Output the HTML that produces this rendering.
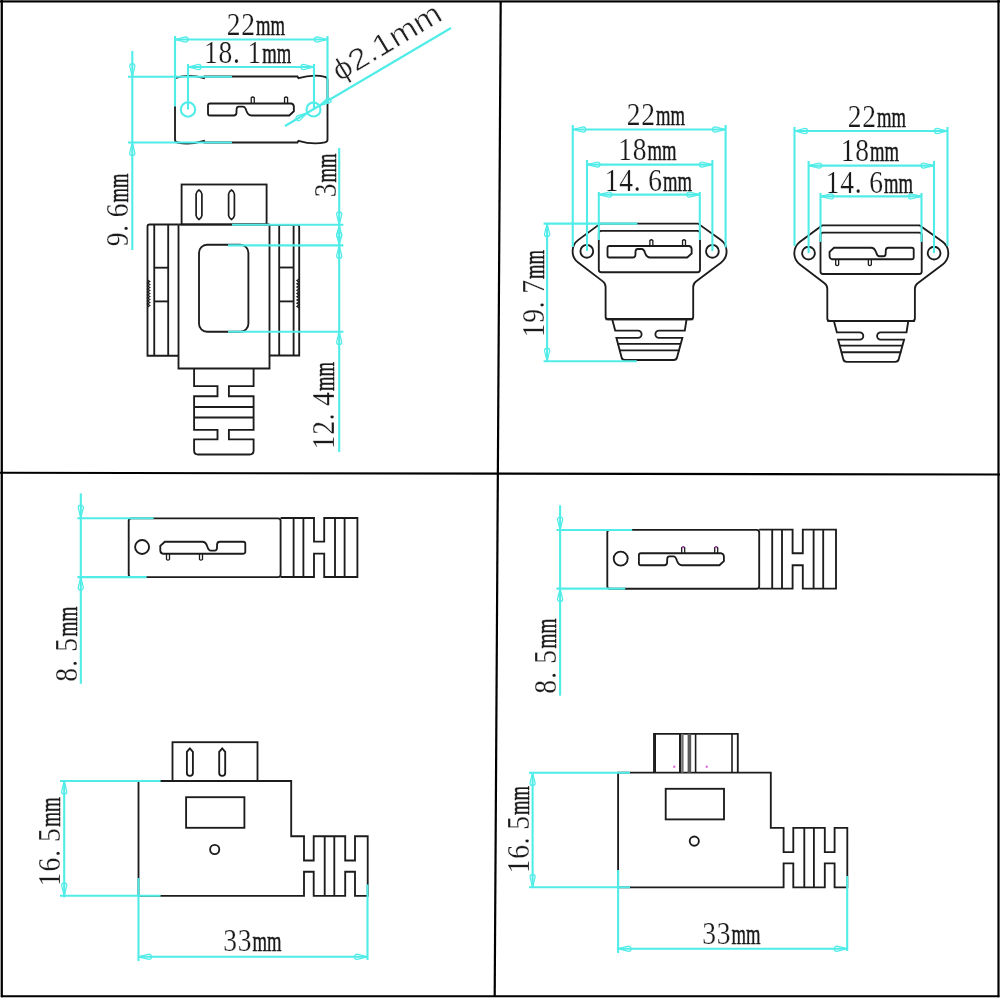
<!DOCTYPE html>
<html><head><meta charset="utf-8"><style>html,body{margin:0;padding:0;background:#fff;}svg{display:block;will-change:transform;} </style></head><body>
<svg width="1000" height="1000" viewBox="0 0 1000 1000">
<rect x="0" y="0" width="1000" height="1000" fill="#ffffff"/>
<g>
<path d="M175,78 Q189.5,73.8 204,78.2 L204.5,76.5 L297.5,76.5 L298.5,78.2 Q313,73.8 325,76.8 Q327.5,77.5 327.5,80 L327.5,139.5 Q327.5,142 325,142.3 Q313,145 298.5,140.8 L297.5,142.5 L204.5,142.5 L204,140.8 Q189.5,145.2 177.5,142.5 Q175,142 175,139.5 Z" stroke="#1c1c1c" stroke-width="1.85" fill="none" />
<circle cx="188" cy="109.5" r="7.2" stroke="#50ece8" stroke-width="2.1" fill="none"/>
<circle cx="313.5" cy="109.5" r="7" stroke="#50ece8" stroke-width="2.1" fill="none"/>
<g transform="translate(208,103.5) scale(1.01,1.04)">
<path d="M2,0 L82.5,0 Q84.8,0.5 85,3 L85,7.5 L80.5,11.5 L43,11.5 Q39.5,11.5 38,7 Q36.8,3 34.5,3 L30.5,3 Q28.5,3 28.3,5.5 L28.2,9 Q28,11.5 25.5,11.5 L2,11.5 Q0,11.5 0,9.5 L0,2 Q0,0 2,0 Z" stroke="#1c1c1c" stroke-width="1.85" fill="none" vector-effect="non-scaling-stroke"/>
<path d="M42.8,0 L42.8,-5.5 Q44.3,-7 45.8,-5.5 L45.8,0" stroke="#1c1c1c" stroke-width="1.3" fill="none" vector-effect="non-scaling-stroke"/>
<path d="M75.8,0 L75.8,-5.5 Q77.3,-7 78.8,-5.5 L78.8,0" stroke="#1c1c1c" stroke-width="1.3" fill="none" vector-effect="non-scaling-stroke"/>
</g>
<line x1="175" y1="36" x2="175" y2="106.5" stroke="#50ece8" stroke-width="2.1"/>
<line x1="327.5" y1="36" x2="327.5" y2="103" stroke="#50ece8" stroke-width="2.1"/>
<line x1="175" y1="39.5" x2="327.5" y2="39.5" stroke="#50ece8" stroke-width="2.1"/>
<path d="M175,39.5 L185.4,42.1 A2.6,2.6 0 0 0 185.4,36.9 Z" stroke="#50ece8" stroke-width="1.2" fill="none" />
<path d="M327.5,39.5 L317.1,36.9 A2.6,2.6 0 0 0 317.1,42.1 Z" stroke="#50ece8" stroke-width="1.2" fill="none" />
<line x1="188" y1="64" x2="188" y2="109.5" stroke="#50ece8" stroke-width="2.1"/>
<line x1="314" y1="64" x2="314" y2="109.5" stroke="#50ece8" stroke-width="2.1"/>
<line x1="188" y1="67" x2="314" y2="67" stroke="#50ece8" stroke-width="2.1"/>
<path d="M188,67 L198.4,69.6 A2.6,2.6 0 0 0 198.4,64.4 Z" stroke="#50ece8" stroke-width="1.2" fill="none" />
<path d="M314,67 L303.6,64.4 A2.6,2.6 0 0 0 303.6,69.6 Z" stroke="#50ece8" stroke-width="1.2" fill="none" />
<g transform="translate(227,34.5)"><g transform="scale(0.86,1)"><text x="-0.35 16.51" y="0" font-family="Liberation Serif" font-size="32" fill="#1a1a1a" stroke="#fff" stroke-width="0.2">22</text></g><text x="29" y="0" font-family="Liberation Serif" font-size="29.5" fill="#1a1a1a" stroke="#1a1a1a" stroke-width="0.5" textLength="29" lengthAdjust="spacingAndGlyphs">mm</text></g>
<g transform="translate(204.3,62.5)"><g transform="scale(0.86,1)"><text x="-0.35 16.51 33.37 50.23" y="0" font-family="Liberation Serif" font-size="32" fill="#1a1a1a" stroke="#fff" stroke-width="0.2">18.1</text></g><text x="58" y="0" font-family="Liberation Serif" font-size="29.5" fill="#1a1a1a" stroke="#1a1a1a" stroke-width="0.5" textLength="29" lengthAdjust="spacingAndGlyphs">mm</text></g>
<line x1="285" y1="126" x2="451" y2="28" stroke="#50ece8" stroke-width="2.1"/>
<path d="M307.47,112.86 L297.2,115.91 A2.6,2.6 0 0 0 299.84,120.38 Z" stroke="#50ece8" stroke-width="1.2" fill="none" />
<path d="M319.53,105.74 L329.8,102.69 A2.6,2.6 0 0 0 327.16,98.22 Z" stroke="#50ece8" stroke-width="1.2" fill="none" />
<g transform="translate(339.5,82) rotate(-31)"><text x="0" y="0" font-family="Liberation Sans" font-size="30" fill="#222" stroke="#fff" stroke-width="0.6" textLength="122" lengthAdjust="spacingAndGlyphs">&#981;2.1mm</text></g>
<line x1="132.3" y1="51" x2="132.3" y2="250" stroke="#50ece8" stroke-width="2.1"/>
<line x1="128" y1="76.7" x2="232" y2="76.7" stroke="#50ece8" stroke-width="2.1"/>
<line x1="128" y1="142.5" x2="232" y2="142.5" stroke="#50ece8" stroke-width="2.1"/>
<path d="M132.3,76.7 L134.9,66.3 A2.6,2.6 0 0 0 129.7,66.3 Z" stroke="#50ece8" stroke-width="1.2" fill="none" />
<path d="M132.3,142.5 L129.7,152.9 A2.6,2.6 0 0 0 134.9,152.9 Z" stroke="#50ece8" stroke-width="1.2" fill="none" />
<g transform="translate(128.4,246) rotate(-90)"><g transform="scale(0.86,1)"><text x="-0.35 16.51 33.37" y="0" font-family="Liberation Serif" font-size="32" fill="#1a1a1a" stroke="#fff" stroke-width="0.2">9.6</text></g><text x="43.5" y="0" font-family="Liberation Serif" font-size="29.5" fill="#1a1a1a" stroke="#1a1a1a" stroke-width="0.5" textLength="29" lengthAdjust="spacingAndGlyphs">mm</text></g>
<rect x="181.6" y="184.5" width="85" height="40" rx="0" stroke="#1c1c1c" stroke-width="1.85" fill="none"/>
<path d="M196.1,194 Q196.4,191.6 199,190 Q201.6,191.6 201.9,194 L201.9,215.5 Q201.6,217.9 199,219.5 Q196.4,217.9 196.1,215.5 Z" stroke="#1c1c1c" stroke-width="1.7" fill="none" />
<path d="M228.6,194 Q228.9,191.6 231.5,190 Q234.1,191.6 234.4,194 L234.4,215.5 Q234.1,217.9 231.5,219.5 Q228.9,217.9 228.6,215.5 Z" stroke="#1c1c1c" stroke-width="1.7" fill="none" />
<path d="M178.5,224.5 L178.5,368.5 L269.5,368.5 L269.5,224.5" stroke="#1c1c1c" stroke-width="1.85" fill="none" />
<line x1="178.5" y1="224.5" x2="269.5" y2="224.5" stroke="#1c1c1c" stroke-width="1.85"/>
<path d="M178.5,224.5 L149.5,224.5 Q147.5,224.5 147.5,226.5 L147.5,355.7 L178.5,355.7" stroke="#1c1c1c" stroke-width="1.85" fill="none" />
<line x1="154.25" y1="224.5" x2="154.25" y2="355.7" stroke="#1c1c1c" stroke-width="1.85"/>
<line x1="168.2" y1="224.5" x2="168.2" y2="355.7" stroke="#1c1c1c" stroke-width="1.85"/>
<line x1="154.25" y1="267.7" x2="168.2" y2="267.7" stroke="#1c1c1c" stroke-width="1.85"/>
<line x1="154.25" y1="301.4" x2="168.2" y2="301.4" stroke="#1c1c1c" stroke-width="1.85"/>
<path d="M269.5,224.8 L297.2,224.8 Q299.2,224.8 299.2,226.8 L299.2,355.5 L269.5,355.5" stroke="#1c1c1c" stroke-width="1.85" fill="none" />
<line x1="279.2" y1="224.8" x2="279.2" y2="355.5" stroke="#1c1c1c" stroke-width="1.85"/>
<line x1="293.6" y1="224.8" x2="293.6" y2="355.5" stroke="#1c1c1c" stroke-width="1.85"/>
<line x1="279.2" y1="267.5" x2="293.6" y2="267.5" stroke="#1c1c1c" stroke-width="1.85"/>
<line x1="279.2" y1="301.4" x2="293.6" y2="301.4" stroke="#1c1c1c" stroke-width="1.85"/>
<path d="M147.5,280 L149.7,281.5 L147.5,283 L149.7,284.5 L147.5,286 L149.7,287.5 L147.5,289 L149.7,290.5 L147.5,292 L149.7,293.5 L147.5,295 L149.7,296.5 L147.5,298 L149.7,299.5 L147.5,301 L149.7,302.5 L147.5,304 L149.7,305.5 L147.5,307" stroke="#1c1c1c" stroke-width="1.3" fill="none" />
<path d="M299.2,279 L297,280.61 L299.2,282.22 L297,283.83 L299.2,285.44 L297,287.06 L299.2,288.67 L297,290.28 L299.2,291.89 L297,293.5 L299.2,295.11 L297,296.72 L299.2,298.33 L297,299.94 L299.2,301.56 L297,303.17 L299.2,304.78 L297,306.39 L299.2,308" stroke="#1c1c1c" stroke-width="1.3" fill="none" />
<rect x="199" y="244.7" width="49.4" height="87" rx="8" stroke="#1c1c1c" stroke-width="1.85" fill="none"/>
<path d="M194.1,368.4 L194.1,386.1 L217.5,386.1 L217.5,396.2 L194.1,396.2 L194.1,429.8 L217.5,429.8 L217.5,439.3 L194.1,439.3 L194.1,450.5 Q194.1,454.5 198,454.5 L249.6,454.5 Q253.6,454.5 253.6,450.5 L253.6,439.3 L228.9,439.3 L228.9,429.8 L253.6,429.8 L253.6,396.2 L228.9,396.2 L228.9,386.1 L253.6,386.1 L253.6,368.4" stroke="#1c1c1c" stroke-width="1.85" fill="none" />
<line x1="194.1" y1="407" x2="253.6" y2="407" stroke="#1c1c1c" stroke-width="1.85"/>
<line x1="194.1" y1="417.5" x2="253.6" y2="417.5" stroke="#1c1c1c" stroke-width="1.85"/>
<line x1="339.2" y1="148" x2="339.2" y2="452" stroke="#50ece8" stroke-width="2.1"/>
<line x1="232" y1="224.8" x2="343.4" y2="224.8" stroke="#50ece8" stroke-width="2.1"/>
<line x1="228" y1="245.4" x2="343.4" y2="245.4" stroke="#50ece8" stroke-width="2.1"/>
<line x1="228" y1="331.7" x2="343.4" y2="331.7" stroke="#50ece8" stroke-width="2.1"/>
<path d="M339.2,224.8 L341.8,214.4 A2.6,2.6 0 0 0 336.6,214.4 Z" stroke="#50ece8" stroke-width="1.2" fill="none" />
<path d="M339.2,224.8 L336.6,235.2 A2.6,2.6 0 0 0 341.8,235.2 Z" stroke="#50ece8" stroke-width="1.2" fill="none" />
<path d="M339.2,245.4 L341.8,235 A2.6,2.6 0 0 0 336.6,235 Z" stroke="#50ece8" stroke-width="1.2" fill="none" />
<path d="M339.2,245.4 L336.6,255.8 A2.6,2.6 0 0 0 341.8,255.8 Z" stroke="#50ece8" stroke-width="1.2" fill="none" />
<path d="M339.2,331.7 L336.6,342.1 A2.6,2.6 0 0 0 341.8,342.1 Z" stroke="#50ece8" stroke-width="1.2" fill="none" />
<g transform="translate(335.6,197) rotate(-90)"><g transform="scale(0.86,1)"><text x="-0.35" y="0" font-family="Liberation Serif" font-size="32" fill="#1a1a1a" stroke="#fff" stroke-width="0.2">3</text></g><text x="14.5" y="0" font-family="Liberation Serif" font-size="29.5" fill="#1a1a1a" stroke="#1a1a1a" stroke-width="0.5" textLength="29" lengthAdjust="spacingAndGlyphs">mm</text></g>
<g transform="translate(334.4,449) rotate(-90)"><g transform="scale(0.86,1)"><text x="-0.35 16.51 33.37 50.23" y="0" font-family="Liberation Serif" font-size="32" fill="#1a1a1a" stroke="#fff" stroke-width="0.2">12.4</text></g><text x="58" y="0" font-family="Liberation Serif" font-size="29.5" fill="#1a1a1a" stroke="#1a1a1a" stroke-width="0.5" textLength="29" lengthAdjust="spacingAndGlyphs">mm</text></g>
<path d="M600.4,223.6 L698,223.6 L720.64,239.74 A14.2,14.2 0 0 1 720.93,262.65 L696,281.4 Q693.2,283.5 693.2,287 L693.2,316.8 Q693.2,319.2 690.8,319.2 L608,319.2 Q605.6,319.2 605.6,316.8 L605.6,287 Q605.6,283.5 602.82,281.38 L578.19,262.59 A14.2,14.2 0 0 1 578.36,239.88 Z" stroke="#1c1c1c" stroke-width="1.85" fill="none" />
<circle cx="586.8" cy="251.3" r="6.4" stroke="#1c1c1c" stroke-width="1.85" fill="none"/>
<circle cx="712.4" cy="251.3" r="6.4" stroke="#1c1c1c" stroke-width="1.85" fill="none"/>
<rect x="598.8" y="230.8" width="101.2" height="41.4" rx="2.5" stroke="#1c1c1c" stroke-width="1.85" fill="none"/>
<g transform="translate(607.5,246) scale(0.99,1)">
<path d="M2,0 L82.5,0 Q84.8,0.5 85,3 L85,7.5 L80.5,11.5 L43,11.5 Q39.5,11.5 38,7 Q36.8,3 34.5,3 L30.5,3 Q28.5,3 28.3,5.5 L28.2,9 Q28,11.5 25.5,11.5 L2,11.5 Q0,11.5 0,9.5 L0,2 Q0,0 2,0 Z" stroke="#1c1c1c" stroke-width="1.85" fill="none" vector-effect="non-scaling-stroke"/>
<path d="M42.8,0 L42.8,-5.5 Q44.3,-7 45.8,-5.5 L45.8,0" stroke="#1c1c1c" stroke-width="1.3" fill="none" vector-effect="non-scaling-stroke"/>
<path d="M75.8,0 L75.8,-5.5 Q77.3,-7 78.8,-5.5 L78.8,0" stroke="#1c1c1c" stroke-width="1.3" fill="none" vector-effect="non-scaling-stroke"/>
</g>
<path d="M612.2,319.2 L615.2,330.6 L638,330.6 A3.6,3.6 0 0 1 638,337.8 L616.4,337.8 L621.6,357.5 Q622.2,360 625,360 L673.6,360 Q676.4,360 677,357.5 L682.4,337.8 L659,337.8 A3.6,3.6 0 0 1 659,330.6 L684.8,330.6 L686.6,319.2" stroke="#1c1c1c" stroke-width="1.85" fill="none" />
<line x1="617.5" y1="343.8" x2="681" y2="343.8" stroke="#1c1c1c" stroke-width="1.85"/>
<line x1="619.2" y1="350.4" x2="679.6" y2="350.4" stroke="#1c1c1c" stroke-width="1.85"/>
<line x1="605.6" y1="319.2" x2="693.2" y2="319.2" stroke="#1c1c1c" stroke-width="2.2"/>
<path d="M822.1,225.4 L919.7,225.4 L942.34,241.54 A14.2,14.2 0 0 1 942.63,264.45 L917.7,283.2 Q914.9,285.3 914.9,288.8 L914.9,318.6 Q914.9,321 912.5,321 L829.7,321 Q827.3,321 827.3,318.6 L827.3,288.8 Q827.3,285.3 824.52,283.18 L799.89,264.39 A14.2,14.2 0 0 1 800.06,241.68 Z" stroke="#1c1c1c" stroke-width="1.85" fill="none" />
<circle cx="808.5" cy="253.1" r="6.4" stroke="#1c1c1c" stroke-width="1.85" fill="none"/>
<circle cx="934.1" cy="253.1" r="6.4" stroke="#1c1c1c" stroke-width="1.85" fill="none"/>
<rect x="820.5" y="232.6" width="101.2" height="41.4" rx="2.5" stroke="#1c1c1c" stroke-width="1.85" fill="none"/>
<g transform="translate(913.7,259.3) scale(-0.99,-1)">
<path d="M2,0 L82.5,0 Q84.8,0.5 85,3 L85,7.5 L80.5,11.5 L43,11.5 Q39.5,11.5 38,7 Q36.8,3 34.5,3 L30.5,3 Q28.5,3 28.3,5.5 L28.2,9 Q28,11.5 25.5,11.5 L2,11.5 Q0,11.5 0,9.5 L0,2 Q0,0 2,0 Z" stroke="#1c1c1c" stroke-width="1.85" fill="none" vector-effect="non-scaling-stroke"/>
<path d="M42.8,0 L42.8,-5.5 Q44.3,-7 45.8,-5.5 L45.8,0" stroke="#1c1c1c" stroke-width="1.3" fill="none" vector-effect="non-scaling-stroke"/>
<path d="M75.8,0 L75.8,-5.5 Q77.3,-7 78.8,-5.5 L78.8,0" stroke="#1c1c1c" stroke-width="1.3" fill="none" vector-effect="non-scaling-stroke"/>
</g>
<path d="M833.9,321 L836.9,332.4 L859.7,332.4 A3.6,3.6 0 0 1 859.7,339.6 L838.1,339.6 L843.3,359.3 Q843.9,361.8 846.7,361.8 L895.3,361.8 Q898.1,361.8 898.7,359.3 L904.1,339.6 L880.7,339.6 A3.6,3.6 0 0 1 880.7,332.4 L906.5,332.4 L908.3,321" stroke="#1c1c1c" stroke-width="1.85" fill="none" />
<line x1="839.2" y1="345.6" x2="902.7" y2="345.6" stroke="#1c1c1c" stroke-width="1.85"/>
<line x1="840.9" y1="352.2" x2="901.3" y2="352.2" stroke="#1c1c1c" stroke-width="1.85"/>
<line x1="827.3" y1="321" x2="914.9" y2="321" stroke="#1c1c1c" stroke-width="2.2"/>
<line x1="572.75" y1="125" x2="572.75" y2="247" stroke="#50ece8" stroke-width="2.1"/>
<line x1="725.6" y1="125" x2="725.6" y2="247.5" stroke="#50ece8" stroke-width="2.1"/>
<line x1="572.75" y1="129.5" x2="725.6" y2="129.5" stroke="#50ece8" stroke-width="2.1"/>
<path d="M572.75,129.5 L583.15,132.1 A2.6,2.6 0 0 0 583.15,126.9 Z" stroke="#50ece8" stroke-width="1.2" fill="none" />
<path d="M725.6,129.5 L715.2,126.9 A2.6,2.6 0 0 0 715.2,132.1 Z" stroke="#50ece8" stroke-width="1.2" fill="none" />
<line x1="587" y1="160" x2="587" y2="251" stroke="#50ece8" stroke-width="2.1"/>
<line x1="712.4" y1="160" x2="712.4" y2="251" stroke="#50ece8" stroke-width="2.1"/>
<line x1="587" y1="164.6" x2="712.4" y2="164.6" stroke="#50ece8" stroke-width="2.1"/>
<path d="M587,164.6 L597.4,167.2 A2.6,2.6 0 0 0 597.4,162 Z" stroke="#50ece8" stroke-width="1.2" fill="none" />
<path d="M712.4,164.6 L702,162 A2.6,2.6 0 0 0 702,167.2 Z" stroke="#50ece8" stroke-width="1.2" fill="none" />
<line x1="598.8" y1="192" x2="598.8" y2="240" stroke="#50ece8" stroke-width="2.1"/>
<line x1="699.8" y1="192" x2="699.8" y2="240" stroke="#50ece8" stroke-width="2.1"/>
<line x1="598.8" y1="194.6" x2="699.8" y2="194.6" stroke="#50ece8" stroke-width="2.1"/>
<path d="M598.8,194.6 L609.2,197.2 A2.6,2.6 0 0 0 609.2,192 Z" stroke="#50ece8" stroke-width="1.2" fill="none" />
<path d="M699.8,194.6 L689.4,192 A2.6,2.6 0 0 0 689.4,197.2 Z" stroke="#50ece8" stroke-width="1.2" fill="none" />
<line x1="543.6" y1="223.6" x2="637.4" y2="223.6" stroke="#50ece8" stroke-width="2.1"/>
<line x1="543.6" y1="361.2" x2="636.8" y2="361.2" stroke="#50ece8" stroke-width="2.1"/>
<line x1="547.1" y1="223.6" x2="547.1" y2="361.2" stroke="#50ece8" stroke-width="2.1"/>
<path d="M547.1,223.6 L544.5,234 A2.6,2.6 0 0 0 549.7,234 Z" stroke="#50ece8" stroke-width="1.2" fill="none" />
<path d="M547.1,361.2 L549.7,350.8 A2.6,2.6 0 0 0 544.5,350.8 Z" stroke="#50ece8" stroke-width="1.2" fill="none" />
<g transform="translate(627,125)"><g transform="scale(0.86,1)"><text x="-0.35 16.51" y="0" font-family="Liberation Serif" font-size="32" fill="#1a1a1a" stroke="#fff" stroke-width="0.2">22</text></g><text x="29" y="0" font-family="Liberation Serif" font-size="29.5" fill="#1a1a1a" stroke="#1a1a1a" stroke-width="0.5" textLength="29" lengthAdjust="spacingAndGlyphs">mm</text></g>
<g transform="translate(618.5,159.5)"><g transform="scale(0.86,1)"><text x="-0.35 16.51" y="0" font-family="Liberation Serif" font-size="32" fill="#1a1a1a" stroke="#fff" stroke-width="0.2">18</text></g><text x="29" y="0" font-family="Liberation Serif" font-size="29.5" fill="#1a1a1a" stroke="#1a1a1a" stroke-width="0.5" textLength="29" lengthAdjust="spacingAndGlyphs">mm</text></g>
<g transform="translate(605,191)"><g transform="scale(0.86,1)"><text x="-0.35 16.51 33.37 50.23" y="0" font-family="Liberation Serif" font-size="32" fill="#1a1a1a" stroke="#fff" stroke-width="0.2">14.6</text></g><text x="58" y="0" font-family="Liberation Serif" font-size="29.5" fill="#1a1a1a" stroke="#1a1a1a" stroke-width="0.5" textLength="29" lengthAdjust="spacingAndGlyphs">mm</text></g>
<g transform="translate(543.6,337) rotate(-90)"><g transform="scale(0.86,1)"><text x="-0.35 16.51 33.37 50.23" y="0" font-family="Liberation Serif" font-size="32" fill="#1a1a1a" stroke="#fff" stroke-width="0.2">19.7</text></g><text x="58" y="0" font-family="Liberation Serif" font-size="29.5" fill="#1a1a1a" stroke="#1a1a1a" stroke-width="0.5" textLength="29" lengthAdjust="spacingAndGlyphs">mm</text></g>
<line x1="794.5" y1="127" x2="794.5" y2="246" stroke="#50ece8" stroke-width="2.1"/>
<line x1="947.5" y1="127" x2="947.5" y2="246" stroke="#50ece8" stroke-width="2.1"/>
<line x1="794.5" y1="131" x2="947.5" y2="131" stroke="#50ece8" stroke-width="2.1"/>
<path d="M794.5,131 L804.9,133.6 A2.6,2.6 0 0 0 804.9,128.4 Z" stroke="#50ece8" stroke-width="1.2" fill="none" />
<path d="M947.5,131 L937.1,128.4 A2.6,2.6 0 0 0 937.1,133.6 Z" stroke="#50ece8" stroke-width="1.2" fill="none" />
<line x1="808.6" y1="161" x2="808.6" y2="253" stroke="#50ece8" stroke-width="2.1"/>
<line x1="934" y1="161" x2="934" y2="253" stroke="#50ece8" stroke-width="2.1"/>
<line x1="808.6" y1="165.6" x2="934" y2="165.6" stroke="#50ece8" stroke-width="2.1"/>
<path d="M808.6,165.6 L819,168.2 A2.6,2.6 0 0 0 819,163 Z" stroke="#50ece8" stroke-width="1.2" fill="none" />
<path d="M934,165.6 L923.6,163 A2.6,2.6 0 0 0 923.6,168.2 Z" stroke="#50ece8" stroke-width="1.2" fill="none" />
<line x1="820.5" y1="193" x2="820.5" y2="242" stroke="#50ece8" stroke-width="2.1"/>
<line x1="921.5" y1="193" x2="921.5" y2="242" stroke="#50ece8" stroke-width="2.1"/>
<line x1="820.5" y1="196.4" x2="921.5" y2="196.4" stroke="#50ece8" stroke-width="2.1"/>
<path d="M820.5,196.4 L830.9,199 A2.6,2.6 0 0 0 830.9,193.8 Z" stroke="#50ece8" stroke-width="1.2" fill="none" />
<path d="M921.5,196.4 L911.1,193.8 A2.6,2.6 0 0 0 911.1,199 Z" stroke="#50ece8" stroke-width="1.2" fill="none" />
<g transform="translate(848,126.5)"><g transform="scale(0.86,1)"><text x="-0.35 16.51" y="0" font-family="Liberation Serif" font-size="32" fill="#1a1a1a" stroke="#fff" stroke-width="0.2">22</text></g><text x="29" y="0" font-family="Liberation Serif" font-size="29.5" fill="#1a1a1a" stroke="#1a1a1a" stroke-width="0.5" textLength="29" lengthAdjust="spacingAndGlyphs">mm</text></g>
<g transform="translate(841,161)"><g transform="scale(0.86,1)"><text x="-0.35 16.51" y="0" font-family="Liberation Serif" font-size="32" fill="#1a1a1a" stroke="#fff" stroke-width="0.2">18</text></g><text x="29" y="0" font-family="Liberation Serif" font-size="29.5" fill="#1a1a1a" stroke="#1a1a1a" stroke-width="0.5" textLength="29" lengthAdjust="spacingAndGlyphs">mm</text></g>
<g transform="translate(826,192.5)"><g transform="scale(0.86,1)"><text x="-0.35 16.51 33.37 50.23" y="0" font-family="Liberation Serif" font-size="32" fill="#1a1a1a" stroke="#fff" stroke-width="0.2">14.6</text></g><text x="58" y="0" font-family="Liberation Serif" font-size="29.5" fill="#1a1a1a" stroke="#1a1a1a" stroke-width="0.5" textLength="29" lengthAdjust="spacingAndGlyphs">mm</text></g>
<path d="M131.2,518.3 L278.1,518.3 Q280.6,518.3 280.6,520.8 L280.6,574.6 Q280.6,577.1 278.1,577.1 L131.2,577.1 Q128.7,577.1 128.7,574.6 L128.7,520.8 Q128.7,518.3 131.2,518.3 Z" stroke="#1c1c1c" stroke-width="1.85" fill="none" />
<circle cx="142.1" cy="547" r="7" stroke="#1c1c1c" stroke-width="1.85" fill="none"/>
<g transform="translate(245.3,553.7) scale(-1,-1.04)">
<path d="M2,0 L82.5,0 Q84.8,0.5 85,3 L85,7.5 L80.5,11.5 L43,11.5 Q39.5,11.5 38,7 Q36.8,3 34.5,3 L30.5,3 Q28.5,3 28.3,5.5 L28.2,9 Q28,11.5 25.5,11.5 L2,11.5 Q0,11.5 0,9.5 L0,2 Q0,0 2,0 Z" stroke="#1c1c1c" stroke-width="1.85" fill="none" vector-effect="non-scaling-stroke"/>
<path d="M42.8,0 L42.8,-5.5 Q44.3,-7 45.8,-5.5 L45.8,0" stroke="#1c1c1c" stroke-width="1.3" fill="none" vector-effect="non-scaling-stroke"/>
<path d="M75.8,0 L75.8,-5.5 Q77.3,-7 78.8,-5.5 L78.8,0" stroke="#1c1c1c" stroke-width="1.3" fill="none" vector-effect="non-scaling-stroke"/>
</g>
<path d="M280.6,518 L314,518 L314,541.6 L324.2,541.6 L324.2,518 L357.4,518 L357.4,577 L324.2,577 L324.2,553.6 L314,553.6 L314,577 L280.6,577" stroke="#1c1c1c" stroke-width="1.85" fill="none" />
<line x1="293.6" y1="518" x2="293.6" y2="577" stroke="#1c1c1c" stroke-width="1.85"/>
<line x1="303.4" y1="518" x2="303.4" y2="577" stroke="#1c1c1c" stroke-width="1.85"/>
<line x1="335" y1="518" x2="335" y2="577" stroke="#1c1c1c" stroke-width="1.85"/>
<line x1="344.6" y1="518" x2="344.6" y2="577" stroke="#1c1c1c" stroke-width="1.85"/>
<line x1="80.8" y1="493.4" x2="80.8" y2="683.8" stroke="#50ece8" stroke-width="2.1"/>
<line x1="77.4" y1="518.2" x2="153.6" y2="518.2" stroke="#50ece8" stroke-width="2.1"/>
<line x1="77.4" y1="577.1" x2="146.6" y2="577.1" stroke="#50ece8" stroke-width="2.1"/>
<path d="M80.8,518.2 L83.4,507.8 A2.6,2.6 0 0 0 78.2,507.8 Z" stroke="#50ece8" stroke-width="1.2" fill="none" />
<path d="M80.8,577.1 L78.2,587.5 A2.6,2.6 0 0 0 83.4,587.5 Z" stroke="#50ece8" stroke-width="1.2" fill="none" />
<g transform="translate(77.2,681.5) rotate(-90)"><g transform="scale(0.86,1)"><text x="-0.35 17.09 34.53" y="0" font-family="Liberation Serif" font-size="32" fill="#1a1a1a" stroke="#fff" stroke-width="0.2">8.5</text></g><text x="45" y="0" font-family="Liberation Serif" font-size="29.5" fill="#1a1a1a" stroke="#1a1a1a" stroke-width="0.5" textLength="30" lengthAdjust="spacingAndGlyphs">mm</text></g>
<rect x="172.5" y="742.2" width="85" height="38.8" rx="0" stroke="#1c1c1c" stroke-width="1.85" fill="none"/>
<path d="M186.9,773 L186.9,751.8 L189.9,748.3 L192.9,751.8 L192.9,773 Q192.9,775.9 189.9,775.9 Q186.9,775.9 186.9,773 Z" stroke="#1c1c1c" stroke-width="1.85" fill="none" />
<path d="M219.2,773 L219.2,751.8 L222.2,748.3 L225.2,751.8 L225.2,773 Q225.2,775.9 222.2,775.9 Q219.2,775.9 219.2,773 Z" stroke="#1c1c1c" stroke-width="1.85" fill="none" />
<path d="M138.5,781 L291.2,781 L291.2,836.2 L304,836.2 L304,860.5 L313.7,860.5 L313.7,836.2 L345.2,836.2 L345.2,860.5 L355,860.5 L355,836.2 L367.7,836.2 L367.7,895.8 L355,895.8 L355,871.7 L345.2,871.7 L345.2,895.8 L313.7,895.8 L313.7,871.7 L304,871.7 L304,895.8 L138.5,895.8 Z" stroke="#1c1c1c" stroke-width="1.85" fill="none" />
<line x1="324.7" y1="836.2" x2="324.7" y2="895.8" stroke="#1c1c1c" stroke-width="1.85"/>
<line x1="334.3" y1="836.2" x2="334.3" y2="895.8" stroke="#1c1c1c" stroke-width="1.85"/>
<rect x="186.1" y="797.2" width="58.3" height="30.6" rx="0" stroke="#1c1c1c" stroke-width="1.85" fill="none"/>
<circle cx="214.7" cy="849.5" r="4.6" stroke="#1c1c1c" stroke-width="1.85" fill="none"/>
<line x1="64.2" y1="782.2" x2="64.2" y2="897.4" stroke="#50ece8" stroke-width="2.1"/>
<line x1="60" y1="781" x2="160.6" y2="781" stroke="#50ece8" stroke-width="2.1"/>
<line x1="60" y1="895.8" x2="160.6" y2="895.8" stroke="#50ece8" stroke-width="2.1"/>
<path d="M64.2,781 L61.6,791.4 A2.6,2.6 0 0 0 66.8,791.4 Z" stroke="#50ece8" stroke-width="1.2" fill="none" />
<path d="M64.2,895.8 L66.8,885.4 A2.6,2.6 0 0 0 61.6,885.4 Z" stroke="#50ece8" stroke-width="1.2" fill="none" />
<line x1="138.5" y1="878" x2="138.5" y2="961" stroke="#50ece8" stroke-width="2.1"/>
<line x1="367.5" y1="884.5" x2="367.5" y2="960" stroke="#50ece8" stroke-width="2.1"/>
<line x1="138.5" y1="956.8" x2="367.5" y2="956.8" stroke="#50ece8" stroke-width="2.1"/>
<path d="M138.5,956.8 L148.9,959.4 A2.6,2.6 0 0 0 148.9,954.2 Z" stroke="#50ece8" stroke-width="1.2" fill="none" />
<path d="M367.5,956.8 L357.1,954.2 A2.6,2.6 0 0 0 357.1,959.4 Z" stroke="#50ece8" stroke-width="1.2" fill="none" />
<g transform="translate(59.8,886) rotate(-90)"><g transform="scale(0.86,1)"><text x="-0.35 16.86 34.07 51.28" y="0" font-family="Liberation Serif" font-size="32" fill="#1a1a1a" stroke="#fff" stroke-width="0.2">16.5</text></g><text x="59.2" y="0" font-family="Liberation Serif" font-size="29.5" fill="#1a1a1a" stroke="#1a1a1a" stroke-width="0.5" textLength="29.6" lengthAdjust="spacingAndGlyphs">mm</text></g>
<g transform="translate(223.5,951.4)"><g transform="scale(0.86,1)"><text x="-0.35 16.51" y="0" font-family="Liberation Serif" font-size="32" fill="#1a1a1a" stroke="#fff" stroke-width="0.2">33</text></g><text x="29" y="0" font-family="Liberation Serif" font-size="29.5" fill="#1a1a1a" stroke="#1a1a1a" stroke-width="0.5" textLength="29" lengthAdjust="spacingAndGlyphs">mm</text></g>
<path d="M609.8,529.9 L756.7,529.9 Q759.2,529.9 759.2,532.4 L759.2,586.2 Q759.2,588.7 756.7,588.7 L609.8,588.7 Q607.3,588.7 607.3,586.2 L607.3,532.4 Q607.3,529.9 609.8,529.9 Z" stroke="#1c1c1c" stroke-width="1.85" fill="none" />
<circle cx="620.7" cy="558.6" r="7" stroke="#1c1c1c" stroke-width="1.85" fill="none"/>
<g transform="translate(638.9,553.3) scale(1,1.04)">
<path d="M2,0 L82.5,0 Q84.8,0.5 85,3 L85,7.5 L80.5,11.5 L43,11.5 Q39.5,11.5 38,7 Q36.8,3 34.5,3 L30.5,3 Q28.5,3 28.3,5.5 L28.2,9 Q28,11.5 25.5,11.5 L2,11.5 Q0,11.5 0,9.5 L0,2 Q0,0 2,0 Z" stroke="#1c1c1c" stroke-width="1.85" fill="none" vector-effect="non-scaling-stroke"/>
<path d="M42.8,0 L42.8,-5.5 Q44.3,-7 45.8,-5.5 L45.8,0" stroke="#1c1c1c" stroke-width="1.3" fill="none" vector-effect="non-scaling-stroke"/>
<line x1="43.1" y1="-5.6" x2="45.5" y2="-5.6" stroke="#c040c0" stroke-width="1.4" vector-effect="non-scaling-stroke"/>
<path d="M75.8,0 L75.8,-5.5 Q77.3,-7 78.8,-5.5 L78.8,0" stroke="#1c1c1c" stroke-width="1.3" fill="none" vector-effect="non-scaling-stroke"/>
<line x1="76.1" y1="-5.6" x2="78.5" y2="-5.6" stroke="#c040c0" stroke-width="1.4" vector-effect="non-scaling-stroke"/>
</g>
<path d="M759.2,529.6 L792.6,529.6 L792.6,553.2 L802.8,553.2 L802.8,529.6 L836,529.6 L836,588.6 L802.8,588.6 L802.8,565.2 L792.6,565.2 L792.6,588.6 L759.2,588.6" stroke="#1c1c1c" stroke-width="1.85" fill="none" />
<line x1="772.2" y1="529.6" x2="772.2" y2="588.6" stroke="#1c1c1c" stroke-width="1.85"/>
<line x1="782" y1="529.6" x2="782" y2="588.6" stroke="#1c1c1c" stroke-width="1.85"/>
<line x1="813.6" y1="529.6" x2="813.6" y2="588.6" stroke="#1c1c1c" stroke-width="1.85"/>
<line x1="823.2" y1="529.6" x2="823.2" y2="588.6" stroke="#1c1c1c" stroke-width="1.85"/>
<line x1="560.1" y1="505.3" x2="560.1" y2="695.7" stroke="#50ece8" stroke-width="2.1"/>
<line x1="556.5" y1="530" x2="632.2" y2="530" stroke="#50ece8" stroke-width="2.1"/>
<line x1="556.5" y1="588.6" x2="625.2" y2="588.6" stroke="#50ece8" stroke-width="2.1"/>
<path d="M560.1,530 L562.7,519.6 A2.6,2.6 0 0 0 557.5,519.6 Z" stroke="#50ece8" stroke-width="1.2" fill="none" />
<path d="M560.1,588.6 L557.5,599 A2.6,2.6 0 0 0 562.7,599 Z" stroke="#50ece8" stroke-width="1.2" fill="none" />
<g transform="translate(555.7,693.5) rotate(-90)"><g transform="scale(0.86,1)"><text x="-0.35 17.09 34.53" y="0" font-family="Liberation Serif" font-size="32" fill="#1a1a1a" stroke="#fff" stroke-width="0.2">8.5</text></g><text x="45" y="0" font-family="Liberation Serif" font-size="29.5" fill="#1a1a1a" stroke="#1a1a1a" stroke-width="0.5" textLength="30" lengthAdjust="spacingAndGlyphs">mm</text></g>
<path d="M618.1,772.6 L770.8,772.6 L770.8,827.8 L783.6,827.8 L783.6,852.1 L793.3,852.1 L793.3,827.8 L824.8,827.8 L824.8,852.1 L834.6,852.1 L834.6,827.8 L847.3,827.8 L847.3,887.4 L834.6,887.4 L834.6,863.3 L824.8,863.3 L824.8,887.4 L793.3,887.4 L793.3,863.3 L783.6,863.3 L783.6,887.4 L618.1,887.4 Z" stroke="#1c1c1c" stroke-width="1.85" fill="none" />
<line x1="804.3" y1="827.8" x2="804.3" y2="887.4" stroke="#1c1c1c" stroke-width="1.85"/>
<line x1="813.9" y1="827.8" x2="813.9" y2="887.4" stroke="#1c1c1c" stroke-width="1.85"/>
<rect x="665.7" y="788.8" width="58.3" height="30.6" rx="0" stroke="#1c1c1c" stroke-width="1.85" fill="none"/>
<circle cx="694.3" cy="841.1" r="4.6" stroke="#1c1c1c" stroke-width="1.85" fill="none"/>
<path d="M654,772.5 L654,733.8 L737.8,733.8 L737.8,772.5" stroke="#1c1c1c" stroke-width="1.85" fill="none" />
<line x1="655.2" y1="733.8" x2="655.2" y2="772.7" stroke="#1c1c1c" stroke-width="1.6"/>
<line x1="680" y1="733.8" x2="680" y2="772.7" stroke="#1c1c1c" stroke-width="2"/>
<line x1="682.4" y1="733.8" x2="682.4" y2="772.7" stroke="#707070" stroke-width="2.4"/>
<line x1="689.4" y1="733.8" x2="689.4" y2="772.7" stroke="#5a5a5a" stroke-width="3.6"/>
<line x1="695.6" y1="733.8" x2="695.6" y2="772.7" stroke="#1c1c1c" stroke-width="1.6"/>
<line x1="732" y1="733.8" x2="732" y2="772.7" stroke="#1c1c1c" stroke-width="1.6"/>
<circle cx="674.3" cy="766.8" r="1.2" fill="#e070e0"/><circle cx="706.7" cy="766.8" r="1.2" fill="#e070e0"/>
<line x1="532.6" y1="772.9" x2="532.6" y2="887.2" stroke="#50ece8" stroke-width="2.1"/>
<line x1="529" y1="772.7" x2="630" y2="772.7" stroke="#50ece8" stroke-width="2.1"/>
<line x1="529" y1="887.3" x2="630" y2="887.3" stroke="#50ece8" stroke-width="2.1"/>
<path d="M532.6,772.7 L530,783.1 A2.6,2.6 0 0 0 535.2,783.1 Z" stroke="#50ece8" stroke-width="1.2" fill="none" />
<path d="M532.6,887.3 L535.2,876.9 A2.6,2.6 0 0 0 530,876.9 Z" stroke="#50ece8" stroke-width="1.2" fill="none" />
<line x1="618.1" y1="870" x2="618.1" y2="953" stroke="#50ece8" stroke-width="2.1"/>
<line x1="847.2" y1="876" x2="847.2" y2="951" stroke="#50ece8" stroke-width="2.1"/>
<line x1="618.1" y1="948.7" x2="847.2" y2="948.7" stroke="#50ece8" stroke-width="2.1"/>
<path d="M618.1,948.7 L628.5,951.3 A2.6,2.6 0 0 0 628.5,946.1 Z" stroke="#50ece8" stroke-width="1.2" fill="none" />
<path d="M847.2,948.7 L836.8,946.1 A2.6,2.6 0 0 0 836.8,951.3 Z" stroke="#50ece8" stroke-width="1.2" fill="none" />
<g transform="translate(528.8,873) rotate(-90)"><g transform="scale(0.86,1)"><text x="-0.35 16.51 33.37 50.23" y="0" font-family="Liberation Serif" font-size="32" fill="#1a1a1a" stroke="#fff" stroke-width="0.2">16.5</text></g><text x="58" y="0" font-family="Liberation Serif" font-size="29.5" fill="#1a1a1a" stroke="#1a1a1a" stroke-width="0.5" textLength="29" lengthAdjust="spacingAndGlyphs">mm</text></g>
<g transform="translate(702.5,943.8)"><g transform="scale(0.86,1)"><text x="-0.35 16.51" y="0" font-family="Liberation Serif" font-size="32" fill="#1a1a1a" stroke="#fff" stroke-width="0.2">33</text></g><text x="29" y="0" font-family="Liberation Serif" font-size="29.5" fill="#1a1a1a" stroke="#1a1a1a" stroke-width="0.5" textLength="29" lengthAdjust="spacingAndGlyphs">mm</text></g>
<line x1="0" y1="0.4" x2="1000" y2="0.4" stroke="#999" stroke-width="0.8"/>
<line x1="0.4" y1="0" x2="0.4" y2="997" stroke="#999" stroke-width="0.8"/>
<line x1="999.6" y1="0" x2="999.6" y2="997" stroke="#999" stroke-width="0.8"/>
<line x1="0" y1="1.6" x2="1000" y2="1.6" stroke="#000" stroke-width="2"/>
<line x1="1.9" y1="0" x2="1.9" y2="997.2" stroke="#000" stroke-width="2"/>
<line x1="998.4" y1="0" x2="998.4" y2="997.2" stroke="#000" stroke-width="2"/>
<line x1="0.9" y1="996.3" x2="999.4" y2="996.3" stroke="#000" stroke-width="2"/>
<line x1="0" y1="472.8" x2="1000" y2="474.5" stroke="#000" stroke-width="2.1"/>
<line x1="500.7" y1="2" x2="494.7" y2="996" stroke="#000" stroke-width="2.2"/>
</g></svg>
</body></html>
